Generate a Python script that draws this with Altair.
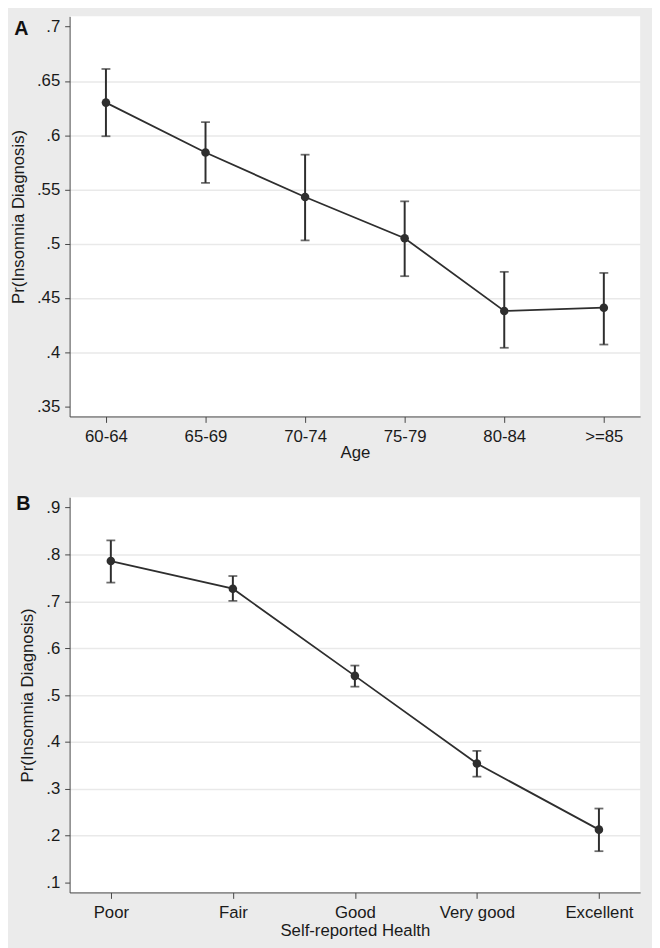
import altair as alt
import pandas as pd

# Panel A: age groups
age_groups = ["60-64", "65-69", "70-74", "75-79", "80-84", ">=85"]
age_est = [0.630, 0.584, 0.543, 0.505, 0.438, 0.441]
age_lo = [0.599, 0.556, 0.503, 0.470, 0.404, 0.407]
age_hi = [0.661, 0.612, 0.582, 0.539, 0.474, 0.473]
age_ticks = [0.35, 0.4, 0.45, 0.5, 0.55, 0.6, 0.65, 0.7]

# Panel B: self-reported health
health_groups = ["Poor", "Fair", "Good", "Very good", "Excellent"]
health_est = [0.786, 0.727, 0.541, 0.354, 0.213]
health_lo = [0.740, 0.701, 0.518, 0.326, 0.167]
health_hi = [0.830, 0.754, 0.563, 0.381, 0.258]
health_ticks = [0.1, 0.2, 0.3, 0.4, 0.5, 0.6, 0.7, 0.8, 0.9]

FONT = "Liberation Sans"
FS = 17
DARK = "#2e2e2e"
GRID = "#e9e9e9"

df_a = pd.DataFrame({"cat": age_groups, "est": age_est, "lo": age_lo, "hi": age_hi})
df_b = pd.DataFrame({"cat": health_groups, "est": health_est, "lo": health_lo, "hi": health_hi})


def panel(df, cats, ticks, domain, pad, xtitle, letter, letter_xy, w, h, lpad, tpad):
    lo_t, hi_t = min(ticks), max(ticks)
    grid_test = f"datum.value <= {lo_t + 1e-6} || datum.value >= {hi_t - 1e-6}"
    x = alt.X(
        "cat:N",
        sort=cats,
        scale=alt.Scale(type="point", padding=pad),
        axis=alt.Axis(
            title=xtitle, labelAngle=0, labelFont=FONT, labelFontSize=FS,
            labelColor="#1a1a1a", titleFont=FONT, titleFontSize=FS,
            titleFontWeight="normal", titleColor="#1a1a1a", tickSize=6,
            tickColor="#444", domainColor="#444", labelPadding=lpad,
            titlePadding=tpad, grid=False,
        ),
    )
    y_axis = alt.Axis(
        title="Pr(Insomnia Diagnosis)", values=ticks,
        labelExpr="slice(format(datum.value, '.2~f'), 1)",
        labelFont=FONT, labelFontSize=FS, labelColor="#1a1a1a",
        titleFont=FONT, titleFontSize=FS, titleFontWeight="normal",
        titleColor="#1a1a1a", tickSize=5, tickColor="#444",
        domainColor="#444", labelPadding=5, titlePadding=9,
        grid=True, gridColor=GRID, gridWidth=1.5,
        gridOpacity=alt.condition(grid_test, alt.value(0), alt.value(1)),
    )
    yscale = alt.Scale(domain=domain, nice=False, zero=False)
    base = alt.Chart(df)
    line = base.mark_line(color=DARK, strokeWidth=1.8).encode(
        x=x, y=alt.Y("est:Q", scale=yscale, axis=y_axis)
    )
    bars = base.mark_rule(color=DARK, strokeWidth=2).encode(
        x=alt.X("cat:N", sort=cats), y=alt.Y("lo:Q"), y2="hi:Q"
    )
    cap_hi = base.mark_tick(color=DARK, size=9, thickness=1.8).encode(
        x=alt.X("cat:N", sort=cats), y=alt.Y("hi:Q")
    )
    cap_lo = base.mark_tick(color=DARK, size=9, thickness=1.8).encode(
        x=alt.X("cat:N", sort=cats), y=alt.Y("lo:Q")
    )
    pts = base.mark_point(filled=True, color=DARK, size=75, opacity=1).encode(
        x=alt.X("cat:N", sort=cats), y=alt.Y("est:Q")
    )
    lab = alt.Chart(pd.DataFrame({"t": [letter]})).mark_text(
        font=FONT, fontSize=20, fontWeight="bold", color="#111"
    ).encode(text="t:N", x=alt.value(letter_xy[0]), y=alt.value(letter_xy[1]))
    return alt.layer(line, bars, cap_hi, cap_lo, pts, lab).properties(width=w, height=h)


pa = panel(df_a, age_groups, age_ticks, [0.3407, 0.7095], 0.365, "Age", "A",
           (-49, 12.5), 579, 406, 6, 1)
pb = panel(df_b, health_groups, health_ticks, [0.079, 0.922], 0.338,
           "Self-reported Health", "B", (-47, 6.5), 579, 401, 6, 3)

chart = alt.vconcat(pa, pb, spacing=33).properties(
    background="#ebebeb", padding={"left": 1.5, "top": 1.5, "right": 12, "bottom": 10}
).configure_view(fill="white", stroke=None)

chart.save("out.html", embed_options={"renderer": "svg", "actions": False})
